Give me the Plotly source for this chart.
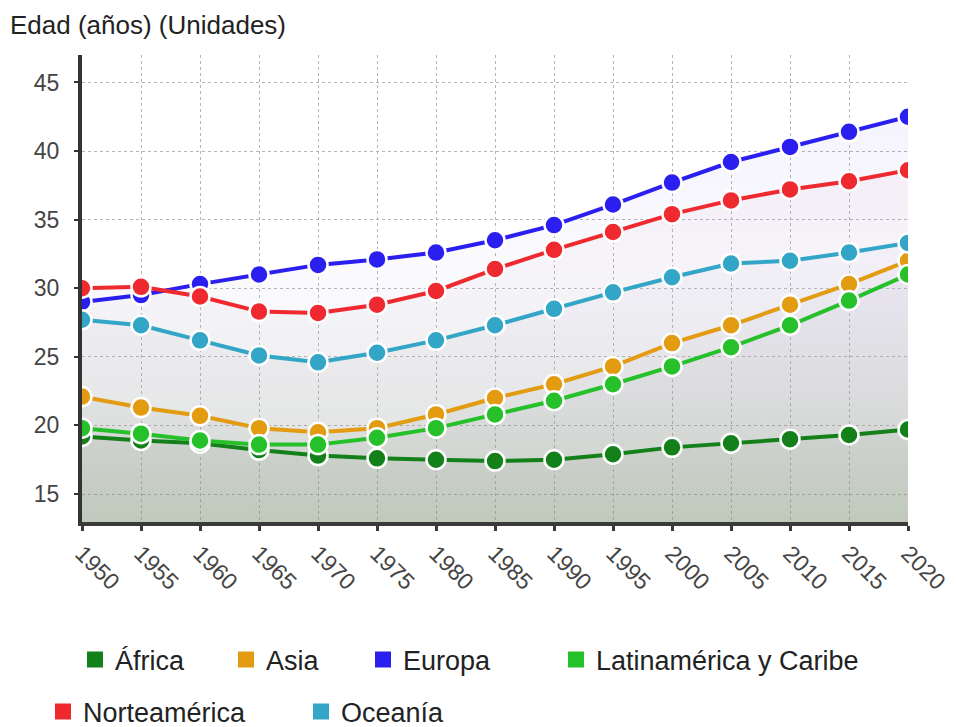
import plotly.graph_objects as go

years = [1950, 1955, 1960, 1965, 1970, 1975, 1980, 1985, 1990, 1995, 2000, 2005, 2010, 2015, 2020]

africa = [19.2, 18.9, 18.7, 18.2, 17.8, 17.6, 17.5, 17.4, 17.5, 17.9, 18.4, 18.7, 19.0, 19.3, 19.7]
asia = [22.1, 21.3, 20.7, 19.8, 19.5, 19.8, 20.8, 22.0, 23.0, 24.3, 26.0, 27.3, 28.8, 30.3, 32.0]
europa = [29.0, 29.5, 30.3, 31.0, 31.7, 32.1, 32.6, 33.5, 34.6, 36.1, 37.7, 39.2, 40.3, 41.4, 42.5]
latam = [19.8, 19.4, 18.9, 18.6, 18.6, 19.1, 19.8, 20.8, 21.8, 23.0, 24.3, 25.7, 27.3, 29.1, 31.0]
norteam = [30.0, 30.1, 29.4, 28.3, 28.2, 28.8, 29.8, 31.4, 32.8, 34.1, 35.4, 36.4, 37.2, 37.8, 38.6]
oceania = [27.7, 27.3, 26.2, 25.1, 24.6, 25.3, 26.2, 27.3, 28.5, 29.7, 30.8, 31.8, 32.0, 32.6, 33.3]

names = ["África", "Asia", "Europa", "Latinamérica y Caribe", "Norteamérica", "Oceanía"]
series = [africa, asia, europa, latam, norteam, oceania]
colors = ["#14801a", "#e39b12", "#2b1ff0", "#25c02a", "#ee2a30", "#33a6c8"]
rgb = [(20, 128, 26), (227, 155, 18), (43, 31, 240), (37, 192, 42), (238, 42, 48), (51, 166, 200)]

y_ticks = [15, 20, 25, 30, 35, 40, 45]
title_text = "Edad (años) (Unidades)"

FONT = "Liberation Sans, Arial, sans-serif"

fig = go.Figure()

# area fills (drawn first, beneath all lines)
for name, vals, c in zip(names, series, rgb):
    fig.add_trace(go.Scatter(
        x=years, y=vals, mode="none", fill="tozeroy",
        fillgradient=dict(
            type="vertical", start=13, stop=45,
            colorscale=[[0, "rgba(120,140,110,0.10)"],
                        [0.6, "rgba(190,175,215,0.07)"],
                        [1, f"rgba({c[0]},{c[1]},{c[2]},0.05)"]],
        ),
        showlegend=False, hoverinfo="skip",
    ))

# lines with markers
for name, vals, col in zip(names, series, colors):
    fig.add_trace(go.Scatter(
        x=years, y=vals, mode="lines+markers", name=name,
        line=dict(color=col, width=4),
        marker=dict(size=19, color=col, line=dict(color="white", width=2.5)),
        showlegend=False,
    ))

# legend entries (square symbols), one legend each for precise placement
legend_ids = ["legend", "legend2", "legend3", "legend4", "legend5", "legend6"]
for name, col, lid in zip(names, colors, legend_ids):
    fig.add_trace(go.Scatter(
        x=[None], y=[None], mode="markers", name=name,
        marker=dict(symbol="square", size=16, color=col),
        legend=lid, showlegend=True,
    ))

# page body adds an 8px offset; figure coordinates are screen minus 8
OFF = 8
W, H = 956 - OFF, 727 - OFF
L, T = 82 - OFF, 55 - OFF
R, B = W - (908 - OFF), H - (522 - OFF)

leg_pos = [(117, 660), (268, 660), (405, 660), (598, 660), (85, 712), (343, 712)]
legend_font = dict(family=FONT, size=27, color="#222222")
layout_legends = {}
for lid, (tx, cy) in zip(legend_ids, leg_pos):
    layout_legends[lid] = dict(
        xref="container", yref="container",
        x=(tx - OFF - 42) / W, y=1 - (cy - OFF) / H,
        xanchor="left", yanchor="middle",
        orientation="h", font=legend_font, bgcolor="rgba(0,0,0,0)",
        borderwidth=0,
    )

fig.update_layout(
    width=W, height=H,
    margin=dict(l=L, r=R, t=T, b=B, autoexpand=False),
    paper_bgcolor="white", plot_bgcolor="white",
    font=dict(family=FONT),
    title=dict(text=title_text, xref="container", yref="container",
               x=(10 - OFF) / W, xanchor="left", y=1 - (25 - OFF) / H, yanchor="middle",
               font=dict(family=FONT, size=26, color="#222222")),
    showlegend=True,
    xaxis=dict(
        range=[1950, 2020], tickmode="array", tickvals=years,
        ticktext=[str(y) for y in years], tickangle=45,
        tickfont=dict(family=FONT, size=23, color="#444444"),
        showgrid=True, gridcolor="#b5b5b5", griddash="dot", gridwidth=1,
        showline=True, linecolor="#3a3a3a", linewidth=4,
        ticks="outside", ticklen=5, tickwidth=3, tickcolor="#3a3a3a",
        zeroline=False, automargin=False,
    ),
    yaxis=dict(
        range=[12.96, 47.0], tickmode="array", tickvals=y_ticks,
        tickfont=dict(family=FONT, size=23, color="#444444"),
        showgrid=True, gridcolor="#b5b5b5", griddash="dot", gridwidth=1,
        showline=True, linecolor="#333333", linewidth=4,
        ticks="outside", ticklen=4, tickwidth=2, tickcolor="#333333",
        ticklabelstandoff=10, zeroline=False, automargin=False,
    ),
    **layout_legends,
)

fig.write_html("out.html")
